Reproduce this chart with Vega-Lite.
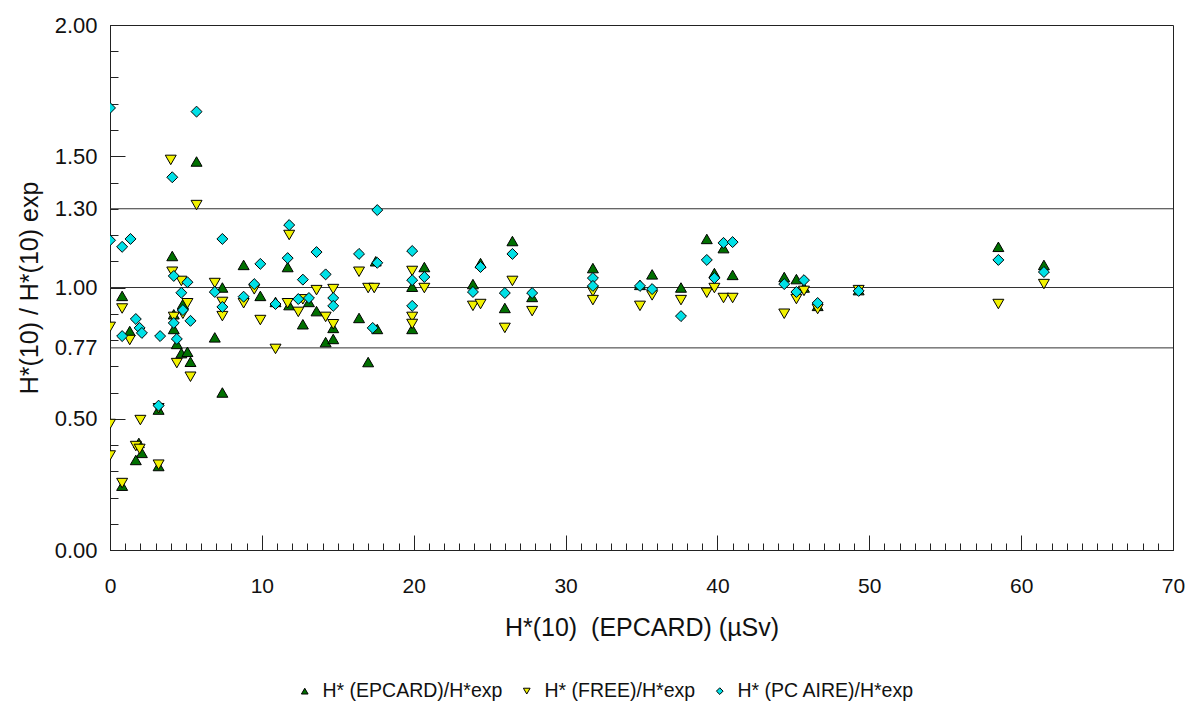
{
  "$schema": "https://vega.github.io/schema/vega-lite/v6.json",
  "width": 1063,
  "height": 525,
  "autosize": {"type": "none"},
  "padding": {"left": 110, "top": 25, "right": 18, "bottom": 154},
  "background": "white",
  "config": {
    "view": {"stroke": "#222", "strokeWidth": 1},
    "font": "Liberation Sans",
    "axis": {"domainColor": "#222", "tickColor": "#222", "labelColor": "#111", "titleColor": "#111", "labelFlush": false, "labelOverlap": false, "grid": false, "titleFontWeight": "normal"}
  },
  "datasets": {
    "pts": [
      {"s":"H* (EPCARD)/H*exp","x":0.8,"y":0.968},{"s":"H* (EPCARD)/H*exp","x":0.8,"y":0.245},{"s":"H* (EPCARD)/H*exp","x":1.3,"y":0.834},{"s":"H* (EPCARD)/H*exp","x":1.9,"y":0.408},{"s":"H* (EPCARD)/H*exp","x":2.1,"y":0.37},{"s":"H* (EPCARD)/H*exp","x":1.7,"y":0.343},{"s":"H* (EPCARD)/H*exp","x":3.2,"y":0.535},{"s":"H* (EPCARD)/H*exp","x":3.2,"y":0.32},{"s":"H* (EPCARD)/H*exp","x":4.1,"y":1.12},{"s":"H* (EPCARD)/H*exp","x":4.2,"y":0.898},{"s":"H* (EPCARD)/H*exp","x":4.2,"y":0.842},{"s":"H* (EPCARD)/H*exp","x":4.4,"y":0.785},{"s":"H* (EPCARD)/H*exp","x":4.8,"y":0.937},{"s":"H* (EPCARD)/H*exp","x":4.7,"y":0.75},{"s":"H* (EPCARD)/H*exp","x":5.1,"y":0.755},{"s":"H* (EPCARD)/H*exp","x":5.3,"y":0.717},{"s":"H* (EPCARD)/H*exp","x":5.7,"y":1.48},{"s":"H* (EPCARD)/H*exp","x":6.9,"y":0.81},{"s":"H* (EPCARD)/H*exp","x":7.4,"y":1.0},{"s":"H* (EPCARD)/H*exp","x":7.4,"y":0.6},{"s":"H* (EPCARD)/H*exp","x":8.8,"y":1.086},{"s":"H* (EPCARD)/H*exp","x":9.9,"y":0.968},{"s":"H* (EPCARD)/H*exp","x":10.9,"y":0.945},{"s":"H* (EPCARD)/H*exp","x":11.7,"y":1.078},{"s":"H* (EPCARD)/H*exp","x":11.8,"y":0.933},{"s":"H* (EPCARD)/H*exp","x":12.7,"y":0.86},{"s":"H* (EPCARD)/H*exp","x":13.1,"y":0.945},{"s":"H* (EPCARD)/H*exp","x":13.6,"y":0.91},{"s":"H* (EPCARD)/H*exp","x":14.2,"y":0.792},{"s":"H* (EPCARD)/H*exp","x":14.7,"y":0.846},{"s":"H* (EPCARD)/H*exp","x":14.7,"y":0.804},{"s":"H* (EPCARD)/H*exp","x":16.4,"y":0.884},{"s":"H* (EPCARD)/H*exp","x":17.0,"y":0.716},{"s":"H* (EPCARD)/H*exp","x":17.5,"y":1.1},{"s":"H* (EPCARD)/H*exp","x":17.6,"y":0.842},{"s":"H* (EPCARD)/H*exp","x":19.9,"y":1.003},{"s":"H* (EPCARD)/H*exp","x":19.9,"y":0.842},{"s":"H* (EPCARD)/H*exp","x":20.7,"y":1.078},{"s":"H* (EPCARD)/H*exp","x":23.9,"y":1.013},{"s":"H* (EPCARD)/H*exp","x":24.4,"y":1.093},{"s":"H* (EPCARD)/H*exp","x":26.0,"y":0.922},{"s":"H* (EPCARD)/H*exp","x":26.5,"y":1.177},{"s":"H* (EPCARD)/H*exp","x":27.8,"y":0.964},{"s":"H* (EPCARD)/H*exp","x":31.8,"y":1.074},{"s":"H* (EPCARD)/H*exp","x":34.9,"y":1.01},{"s":"H* (EPCARD)/H*exp","x":35.7,"y":1.05},{"s":"H* (EPCARD)/H*exp","x":37.6,"y":1.0},{"s":"H* (EPCARD)/H*exp","x":39.3,"y":1.185},{"s":"H* (EPCARD)/H*exp","x":39.8,"y":1.055},{"s":"H* (EPCARD)/H*exp","x":40.4,"y":1.15},{"s":"H* (EPCARD)/H*exp","x":41.0,"y":1.048},{"s":"H* (EPCARD)/H*exp","x":44.4,"y":1.04},{"s":"H* (EPCARD)/H*exp","x":45.2,"y":1.032},{"s":"H* (EPCARD)/H*exp","x":45.7,"y":1.0},{"s":"H* (EPCARD)/H*exp","x":46.6,"y":0.93},{"s":"H* (EPCARD)/H*exp","x":49.3,"y":0.99},{"s":"H* (EPCARD)/H*exp","x":58.5,"y":1.155},{"s":"H* (EPCARD)/H*exp","x":61.5,"y":1.086},
      {"s":"H* (FREE)/H*exp","x":0,"y":0.85},{"s":"H* (FREE)/H*exp","x":0,"y":0.48},{"s":"H* (FREE)/H*exp","x":0,"y":0.36},{"s":"H* (FREE)/H*exp","x":0.8,"y":0.92},{"s":"H* (FREE)/H*exp","x":0.8,"y":0.255},{"s":"H* (FREE)/H*exp","x":1.3,"y":0.8},{"s":"H* (FREE)/H*exp","x":1.7,"y":0.396},{"s":"H* (FREE)/H*exp","x":1.95,"y":0.385},{"s":"H* (FREE)/H*exp","x":2.0,"y":0.495},{"s":"H* (FREE)/H*exp","x":3.2,"y":0.54},{"s":"H* (FREE)/H*exp","x":3.2,"y":0.325},{"s":"H* (FREE)/H*exp","x":4.0,"y":1.486},{"s":"H* (FREE)/H*exp","x":4.1,"y":1.06},{"s":"H* (FREE)/H*exp","x":4.2,"y":0.888},{"s":"H* (FREE)/H*exp","x":4.4,"y":0.712},{"s":"H* (FREE)/H*exp","x":4.7,"y":1.025},{"s":"H* (FREE)/H*exp","x":4.8,"y":0.9},{"s":"H* (FREE)/H*exp","x":5.1,"y":0.94},{"s":"H* (FREE)/H*exp","x":5.3,"y":0.66},{"s":"H* (FREE)/H*exp","x":5.7,"y":1.314},{"s":"H* (FREE)/H*exp","x":6.9,"y":1.017},{"s":"H* (FREE)/H*exp","x":7.4,"y":0.945},{"s":"H* (FREE)/H*exp","x":7.4,"y":0.891},{"s":"H* (FREE)/H*exp","x":8.8,"y":0.94},{"s":"H* (FREE)/H*exp","x":9.5,"y":0.993},{"s":"H* (FREE)/H*exp","x":9.9,"y":0.876},{"s":"H* (FREE)/H*exp","x":10.9,"y":0.766},{"s":"H* (FREE)/H*exp","x":11.7,"y":0.94},{"s":"H* (FREE)/H*exp","x":11.8,"y":1.2},{"s":"H* (FREE)/H*exp","x":12.4,"y":0.907},{"s":"H* (FREE)/H*exp","x":12.7,"y":0.955},{"s":"H* (FREE)/H*exp","x":13.6,"y":0.99},{"s":"H* (FREE)/H*exp","x":14.2,"y":0.888},{"s":"H* (FREE)/H*exp","x":14.7,"y":0.994},{"s":"H* (FREE)/H*exp","x":14.7,"y":0.86},{"s":"H* (FREE)/H*exp","x":16.4,"y":1.06},{"s":"H* (FREE)/H*exp","x":17.0,"y":0.998},{"s":"H* (FREE)/H*exp","x":17.4,"y":0.998},{"s":"H* (FREE)/H*exp","x":19.9,"y":1.063},{"s":"H* (FREE)/H*exp","x":19.9,"y":0.888},{"s":"H* (FREE)/H*exp","x":19.9,"y":0.861},{"s":"H* (FREE)/H*exp","x":20.7,"y":0.998},{"s":"H* (FREE)/H*exp","x":23.9,"y":0.93},{"s":"H* (FREE)/H*exp","x":24.4,"y":0.937},{"s":"H* (FREE)/H*exp","x":26.0,"y":0.846},{"s":"H* (FREE)/H*exp","x":26.5,"y":1.025},{"s":"H* (FREE)/H*exp","x":27.8,"y":0.91},{"s":"H* (FREE)/H*exp","x":31.8,"y":0.985},{"s":"H* (FREE)/H*exp","x":31.8,"y":0.952},{"s":"H* (FREE)/H*exp","x":34.9,"y":0.93},{"s":"H* (FREE)/H*exp","x":35.7,"y":0.97},{"s":"H* (FREE)/H*exp","x":37.6,"y":0.952},{"s":"H* (FREE)/H*exp","x":39.3,"y":0.98},{"s":"H* (FREE)/H*exp","x":39.8,"y":0.998},{"s":"H* (FREE)/H*exp","x":40.4,"y":0.96},{"s":"H* (FREE)/H*exp","x":41.0,"y":0.96},{"s":"H* (FREE)/H*exp","x":44.4,"y":0.9},{"s":"H* (FREE)/H*exp","x":45.2,"y":0.956},{"s":"H* (FREE)/H*exp","x":45.7,"y":0.987},{"s":"H* (FREE)/H*exp","x":46.6,"y":0.918},{"s":"H* (FREE)/H*exp","x":49.3,"y":0.99},{"s":"H* (FREE)/H*exp","x":58.5,"y":0.937},{"s":"H* (FREE)/H*exp","x":61.5,"y":1.013},
      {"s":"H* (PC AIRE)/H*exp","x":0,"y":1.684},{"s":"H* (PC AIRE)/H*exp","x":0,"y":1.18},{"s":"H* (PC AIRE)/H*exp","x":0.8,"y":1.155},{"s":"H* (PC AIRE)/H*exp","x":0.8,"y":0.815},{"s":"H* (PC AIRE)/H*exp","x":1.35,"y":1.185},{"s":"H* (PC AIRE)/H*exp","x":1.7,"y":0.88},{"s":"H* (PC AIRE)/H*exp","x":1.95,"y":0.846},{"s":"H* (PC AIRE)/H*exp","x":2.1,"y":0.827},{"s":"H* (PC AIRE)/H*exp","x":3.3,"y":0.815},{"s":"H* (PC AIRE)/H*exp","x":3.2,"y":0.55},{"s":"H* (PC AIRE)/H*exp","x":4.1,"y":1.42},{"s":"H* (PC AIRE)/H*exp","x":4.2,"y":1.044},{"s":"H* (PC AIRE)/H*exp","x":4.2,"y":0.865},{"s":"H* (PC AIRE)/H*exp","x":4.4,"y":0.804},{"s":"H* (PC AIRE)/H*exp","x":4.7,"y":0.98},{"s":"H* (PC AIRE)/H*exp","x":4.8,"y":0.914},{"s":"H* (PC AIRE)/H*exp","x":5.1,"y":1.02},{"s":"H* (PC AIRE)/H*exp","x":5.3,"y":0.873},{"s":"H* (PC AIRE)/H*exp","x":5.7,"y":1.67},{"s":"H* (PC AIRE)/H*exp","x":6.9,"y":0.983},{"s":"H* (PC AIRE)/H*exp","x":7.4,"y":1.185},{"s":"H* (PC AIRE)/H*exp","x":7.4,"y":0.926},{"s":"H* (PC AIRE)/H*exp","x":8.8,"y":0.965},{"s":"H* (PC AIRE)/H*exp","x":9.5,"y":1.013},{"s":"H* (PC AIRE)/H*exp","x":9.9,"y":1.09},{"s":"H* (PC AIRE)/H*exp","x":10.9,"y":0.937},{"s":"H* (PC AIRE)/H*exp","x":11.7,"y":1.112},{"s":"H* (PC AIRE)/H*exp","x":11.8,"y":1.238},{"s":"H* (PC AIRE)/H*exp","x":12.4,"y":0.956},{"s":"H* (PC AIRE)/H*exp","x":12.7,"y":1.03},{"s":"H* (PC AIRE)/H*exp","x":13.1,"y":0.96},{"s":"H* (PC AIRE)/H*exp","x":13.6,"y":1.135},{"s":"H* (PC AIRE)/H*exp","x":14.2,"y":1.05},{"s":"H* (PC AIRE)/H*exp","x":14.7,"y":0.96},{"s":"H* (PC AIRE)/H*exp","x":14.7,"y":0.93},{"s":"H* (PC AIRE)/H*exp","x":16.4,"y":1.128},{"s":"H* (PC AIRE)/H*exp","x":17.3,"y":0.846},{"s":"H* (PC AIRE)/H*exp","x":17.6,"y":1.094},{"s":"H* (PC AIRE)/H*exp","x":17.6,"y":1.295},{"s":"H* (PC AIRE)/H*exp","x":19.9,"y":1.139},{"s":"H* (PC AIRE)/H*exp","x":19.9,"y":1.028},{"s":"H* (PC AIRE)/H*exp","x":19.9,"y":0.93},{"s":"H* (PC AIRE)/H*exp","x":20.7,"y":1.04},{"s":"H* (PC AIRE)/H*exp","x":23.9,"y":0.983},{"s":"H* (PC AIRE)/H*exp","x":24.4,"y":1.078},{"s":"H* (PC AIRE)/H*exp","x":26.0,"y":0.979},{"s":"H* (PC AIRE)/H*exp","x":26.5,"y":1.128},{"s":"H* (PC AIRE)/H*exp","x":27.8,"y":0.979},{"s":"H* (PC AIRE)/H*exp","x":31.8,"y":1.036},{"s":"H* (PC AIRE)/H*exp","x":31.8,"y":1.006},{"s":"H* (PC AIRE)/H*exp","x":34.9,"y":1.006},{"s":"H* (PC AIRE)/H*exp","x":35.7,"y":0.994},{"s":"H* (PC AIRE)/H*exp","x":37.6,"y":0.891},{"s":"H* (PC AIRE)/H*exp","x":39.3,"y":1.105},{"s":"H* (PC AIRE)/H*exp","x":39.8,"y":1.036},{"s":"H* (PC AIRE)/H*exp","x":40.4,"y":1.17},{"s":"H* (PC AIRE)/H*exp","x":41.0,"y":1.173},{"s":"H* (PC AIRE)/H*exp","x":44.4,"y":1.013},{"s":"H* (PC AIRE)/H*exp","x":45.2,"y":0.983},{"s":"H* (PC AIRE)/H*exp","x":45.7,"y":1.028},{"s":"H* (PC AIRE)/H*exp","x":46.6,"y":0.941},{"s":"H* (PC AIRE)/H*exp","x":49.3,"y":0.987},{"s":"H* (PC AIRE)/H*exp","x":58.5,"y":1.105},{"s":"H* (PC AIRE)/H*exp","x":61.5,"y":1.059}
    ],
    "refs": [{"ref": 0.77}, {"ref": 1.0}, {"ref": 1.3}]
  },
  "data": {"name": "pts"},
  "layer": [
    {
      "data": {"name": "refs"},
      "mark": {"type": "rule", "color": "#333", "strokeWidth": 1},
      "encoding": {
        "y": {
          "field": "ref", "type": "quantitative",
          "scale": {"domain": [0, 2], "nice": false, "zero": false},
          "axis": {
            "orient": "left", "values": [0, 0.5, 0.77, 1, 1.3, 1.5, 2], "format": ".2f",
            "ticks": false, "domain": true, "labelPadding": 13, "labelFontSize": 22,
            "title": "H*(10) / H*(10) exp", "titleFontSize": 25, "titlePadding": 12
          }
        }
      }
    },
    {
      "mark": {"type": "point", "filled": true, "opacity": 0},
      "encoding": {
        "x": {"field": "x", "type": "quantitative", "scale": {"domain": [0, 70], "nice": false, "zero": false},
          "axis": {"orient": "bottom", "values": [0,1,2,3,4,5,6,7,8,9,10,11,12,13,14,15,16,17,18,19,20,21,22,23,24,25,26,27,28,29,30,31,32,33,34,35,36,37,38,39,40,41,42,43,44,45,46,47,48,49,50,51,52,53,54,55,56,57,58,59,60,61,62,63,64,65,66,67,68,69,70], "labels": false, "domain": false, "tickSize": -7, "title": null}},
        "y": {"field": "y", "type": "quantitative", "scale": {"domain": [0, 2], "nice": false, "zero": false},
          "axis": {"orient": "left", "values": [0,0.1,0.2,0.3,0.4,0.5,0.6,0.7,0.8,0.9,1,1.1,1.2,1.3,1.4,1.5,1.6,1.7,1.8,1.9,2], "labels": false, "domain": false, "tickSize": -8, "title": null}}
      }
    },
    {
      "mark": {"type": "point", "filled": true, "opacity": 0},
      "encoding": {
        "x": {"field": "x", "type": "quantitative", "scale": {"domain": [0, 70], "nice": false, "zero": false},
          "axis": {"orient": "bottom", "values": [0,10,20,30,40,50,60,70], "labels": false, "domain": false, "tickSize": -15, "title": null}},
        "y": {"field": "y", "type": "quantitative", "scale": {"domain": [0, 2], "nice": false, "zero": false},
          "axis": {"orient": "left", "values": [0,0.5,1,1.5,2], "labels": false, "domain": false, "tickSize": -15, "title": null}}
      }
    },
    {
      "mark": {"type": "point", "filled": true, "opacity": 1, "stroke": "black", "strokeWidth": 1, "size": 120, "clip": true},
      "encoding": {
        "x": {"field": "x", "type": "quantitative", "scale": {"domain": [0, 70], "nice": false, "zero": false},
          "axis": {"orient": "bottom", "values": [0,10,20,30,40,50,60,70], "ticks": false, "domain": true, "labelPadding": 25, "labelFontSize": 21,
            "title": "H*(10)\u00a0\u00a0(EPCARD) (µSv)", "titleFontSize": 25, "titlePadding": 19}},
        "y": {"field": "y", "type": "quantitative", "scale": {"domain": [0, 2], "nice": false, "zero": false}, "axis": null},
        "color": {"field": "s", "type": "nominal",
          "scale": {"domain": ["H* (EPCARD)/H*exp", "H* (FREE)/H*exp", "H* (PC AIRE)/H*exp"], "range": ["#007000", "#F2F200", "#00E0E6"]},
          "legend": {"orient": "none", "legendX": 185, "legendY": 656, "direction": "horizontal", "title": null,
            "labelFontSize": 19.5, "labelLimit": 0, "symbolSize": 45, "labelOffset": 8, "columnPadding": 14,
            "symbolStrokeColor": "black", "symbolStrokeWidth": 1, "labelColor": "#111"}},
        "shape": {"field": "s", "type": "nominal",
          "scale": {"domain": ["H* (EPCARD)/H*exp", "H* (FREE)/H*exp", "H* (PC AIRE)/H*exp"], "range": ["triangle-up", "triangle-down", "diamond"]},
          "legend": {"orient": "none", "legendX": 185, "legendY": 656, "direction": "horizontal", "title": null,
            "labelFontSize": 19.5, "labelLimit": 0, "symbolSize": 45, "labelOffset": 8, "columnPadding": 14,
            "symbolStrokeColor": "black", "symbolStrokeWidth": 1, "labelColor": "#111"}}
      }
    }
  ],
  "resolve": {"axis": {"x": "independent", "y": "independent"}}
}
